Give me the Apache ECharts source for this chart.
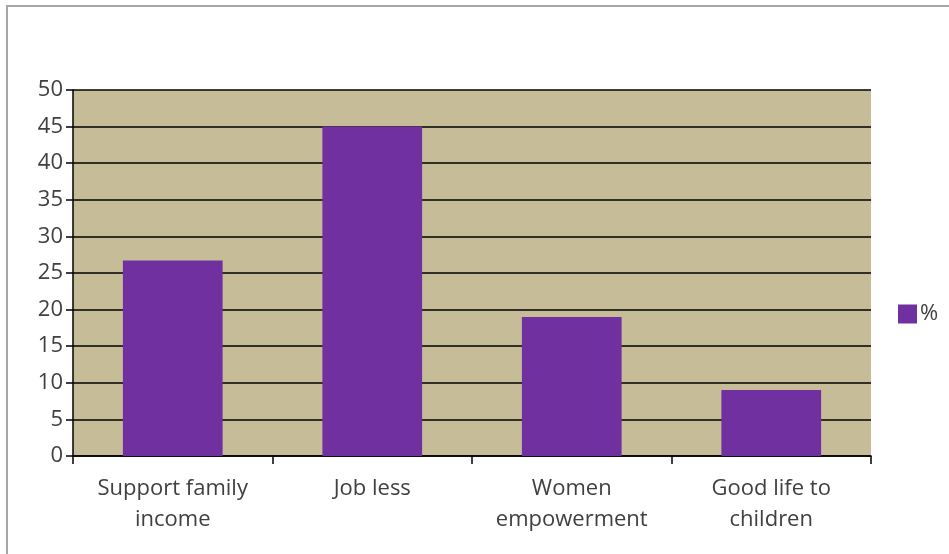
<!DOCTYPE html>
<html><head><meta charset="utf-8">
<script src="https://cdn.jsdelivr.net/npm/echarts@6/dist/echarts.min.js"></script>
<style>html,body{margin:0;padding:0;background:#fff}#c{width:949px;height:554px}</style>
</head><body><div id="c"></div>
<script>
const categories = ['Support family\nincome', 'Job less', 'Women\nempowerment', 'Good life to\nchildren'];
const values = [26.7, 45, 19, 9];
const seriesName = '%';
const chart = echarts.init(document.getElementById('c'));
const font = '"Open Sans", "Liberation Sans", sans-serif';
chart.setOption({
  animation: false,
  backgroundColor: '#fff',
  grid: {left: 73, right: 78, top: 90, bottom: 98, show: true, backgroundColor: '#c6bd98', borderColor: '#c6bd98', borderWidth: 0},
  legend: {
    data: [seriesName], left: 898, top: 303, orient: 'vertical', padding: 0,
    itemWidth: 19, itemHeight: 19, itemGap: 4,
    textStyle: {fontSize: 22, color: '#404040', fontFamily: font, padding: [0,0,0,-2]}, icon: 'rect'
  },
  xAxis: {
    type: 'category', data: categories,
    axisLine: {lineStyle: {color: '#000', width: 1.5}},
    axisTick: {show: true, length: 8, alignWithLabel: false, lineStyle: {color: '#000', width: 1.5}},
    axisLabel: {fontSize: 22, color: '#404040', fontFamily: font, lineHeight: 31, margin: 17}
  },
  yAxis: {
    type: 'value', min: 0, max: 50, interval: 5,
    axisLine: {show: true, lineStyle: {color: '#000', width: 1.5}},
    axisTick: {show: true, length: 7, lineStyle: {color: '#000', width: 1.5}},
    axisLabel: {fontSize: 22, color: '#404040', fontFamily: font, margin: 10},
    splitLine: {show: true, lineStyle: {color: '#000', width: 1.5}}
  },
  series: [{
    name: seriesName, type: 'bar', data: values, barWidth: '50%',
    itemStyle: {color: '#7030a0'}
  }],
  graphic: [
    {type: 'line', shape: {x1: 6, y1: 6, x2: 949, y2: 6}, style: {stroke: '#a6a6a6', lineWidth: 2}},
    {type: 'line', shape: {x1: 7, y1: 6, x2: 7, y2: 554}, style: {stroke: '#a6a6a6', lineWidth: 2}}
  ]
});
</script></body></html>
